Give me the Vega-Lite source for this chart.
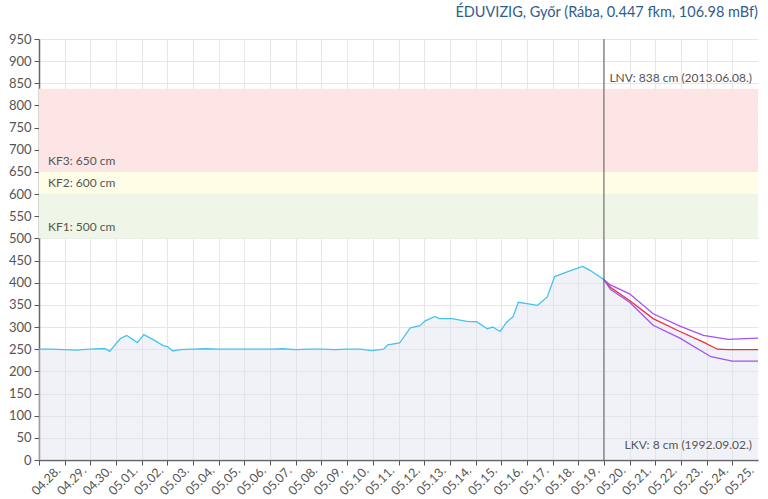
{
  "$schema": "https://vega.github.io/schema/vega-lite/v6.json",
  "width": 719,
  "height": 421,
  "autosize": {"type": "none"},
  "padding": {"left": 39, "top": 39, "right": 10, "bottom": 39},
  "background": "white",
  "title": {
    "text": "ÉDUVIZIG, Győr (Rába, 0.447 fkm, 106.98 mBf)",
    "anchor": "end",
    "frame": "group",
    "font": "Lato",
    "fontSize": 14.5,
    "fontWeight": "normal",
    "color": "#2f5d8e",
    "offset": 13
  },
  "config": {
    "font": "Lato",
    "view": {"stroke": null},
    "axis": {
      "gridColor": "#e6e6e6",
      "gridWidth": 1,
      "domainColor": "#666666",
      "tickColor": "#555555",
      "labelColor": "#555555",
      "labelFont": "Lato",
      "labelFontSize": 13,
      "title": null
    }
  },
  "datasets": {
    "bands": [
      {"lo": 500, "hi": 600, "fill": "#eff6e8"},
      {"lo": 600, "hi": 650, "fill": "#fefde6"},
      {"lo": 650, "hi": 838, "fill": "#fde5e5"}
    ],
    "series": [
      {"t": "2024-04-28T00:00", "v": 250, "s": "obs"},
      {"t": "2024-04-28T10:00", "v": 250, "s": "obs"},
      {"t": "2024-04-29T00:00", "v": 249, "s": "obs"},
      {"t": "2024-04-29T10:00", "v": 248, "s": "obs"},
      {"t": "2024-04-30T00:00", "v": 250, "s": "obs"},
      {"t": "2024-04-30T09:00", "v": 251, "s": "obs"},
      {"t": "2024-04-30T14:00", "v": 251, "s": "obs"},
      {"t": "2024-04-30T18:00", "v": 245, "s": "obs"},
      {"t": "2024-05-01T04:00", "v": 274, "s": "obs"},
      {"t": "2024-05-01T10:00", "v": 281, "s": "obs"},
      {"t": "2024-05-01T20:00", "v": 265, "s": "obs"},
      {"t": "2024-05-02T02:00", "v": 283, "s": "obs"},
      {"t": "2024-05-02T12:00", "v": 270, "s": "obs"},
      {"t": "2024-05-02T20:00", "v": 258, "s": "obs"},
      {"t": "2024-05-03T00:00", "v": 256, "s": "obs"},
      {"t": "2024-05-03T05:00", "v": 246, "s": "obs"},
      {"t": "2024-05-03T12:00", "v": 249, "s": "obs"},
      {"t": "2024-05-04T00:00", "v": 250, "s": "obs"},
      {"t": "2024-05-04T12:00", "v": 251, "s": "obs"},
      {"t": "2024-05-05T00:00", "v": 250, "s": "obs"},
      {"t": "2024-05-06T00:00", "v": 250, "s": "obs"},
      {"t": "2024-05-07T00:00", "v": 250, "s": "obs"},
      {"t": "2024-05-07T12:00", "v": 251, "s": "obs"},
      {"t": "2024-05-08T00:00", "v": 249, "s": "obs"},
      {"t": "2024-05-08T12:00", "v": 250, "s": "obs"},
      {"t": "2024-05-09T00:00", "v": 250, "s": "obs"},
      {"t": "2024-05-09T12:00", "v": 249, "s": "obs"},
      {"t": "2024-05-10T00:00", "v": 250, "s": "obs"},
      {"t": "2024-05-10T12:00", "v": 250, "s": "obs"},
      {"t": "2024-05-10T23:00", "v": 247, "s": "obs"},
      {"t": "2024-05-11T10:00", "v": 250, "s": "obs"},
      {"t": "2024-05-11T14:00", "v": 260, "s": "obs"},
      {"t": "2024-05-12T01:00", "v": 264, "s": "obs"},
      {"t": "2024-05-12T11:00", "v": 298, "s": "obs"},
      {"t": "2024-05-12T20:00", "v": 303, "s": "obs"},
      {"t": "2024-05-13T01:00", "v": 314, "s": "obs"},
      {"t": "2024-05-13T10:00", "v": 324, "s": "obs"},
      {"t": "2024-05-13T14:00", "v": 319, "s": "obs"},
      {"t": "2024-05-14T02:00", "v": 319, "s": "obs"},
      {"t": "2024-05-14T16:00", "v": 313, "s": "obs"},
      {"t": "2024-05-15T01:00", "v": 312, "s": "obs"},
      {"t": "2024-05-15T11:00", "v": 296, "s": "obs"},
      {"t": "2024-05-15T16:00", "v": 300, "s": "obs"},
      {"t": "2024-05-15T23:00", "v": 290, "s": "obs"},
      {"t": "2024-05-16T05:00", "v": 311, "s": "obs"},
      {"t": "2024-05-16T11:00", "v": 323, "s": "obs"},
      {"t": "2024-05-16T16:00", "v": 356, "s": "obs"},
      {"t": "2024-05-17T00:00", "v": 353, "s": "obs"},
      {"t": "2024-05-17T10:00", "v": 349, "s": "obs"},
      {"t": "2024-05-17T19:00", "v": 368, "s": "obs"},
      {"t": "2024-05-18T02:00", "v": 414, "s": "obs"},
      {"t": "2024-05-18T13:00", "v": 424, "s": "obs"},
      {"t": "2024-05-19T02:00", "v": 435, "s": "obs"},
      {"t": "2024-05-19T04:00", "v": 437, "s": "obs"},
      {"t": "2024-05-19T11:00", "v": 428, "s": "obs"},
      {"t": "2024-05-20T00:00", "v": 407, "s": "obs"},
      {"t": "2024-05-20T00:00", "v": 407, "s": "mid"},
      {"t": "2024-05-20T06:00", "v": 390, "s": "mid"},
      {"t": "2024-05-21T00:00", "v": 360, "s": "mid"},
      {"t": "2024-05-21T22:00", "v": 319, "s": "mid"},
      {"t": "2024-05-22T23:00", "v": 290, "s": "mid"},
      {"t": "2024-05-23T21:00", "v": 266, "s": "mid"},
      {"t": "2024-05-24T10:00", "v": 250, "s": "mid"},
      {"t": "2024-05-24T20:00", "v": 249, "s": "mid"},
      {"t": "2024-05-26T00:00", "v": 249, "s": "mid"},
      {"t": "2024-05-20T00:00", "v": 407, "s": "hi"},
      {"t": "2024-05-20T06:00", "v": 395, "s": "hi"},
      {"t": "2024-05-21T00:00", "v": 375, "s": "hi"},
      {"t": "2024-05-21T22:00", "v": 330, "s": "hi"},
      {"t": "2024-05-22T23:00", "v": 302, "s": "hi"},
      {"t": "2024-05-23T21:00", "v": 281, "s": "hi"},
      {"t": "2024-05-24T20:00", "v": 272, "s": "hi"},
      {"t": "2024-05-26T00:00", "v": 275, "s": "hi"},
      {"t": "2024-05-20T00:00", "v": 407, "s": "lo"},
      {"t": "2024-05-20T06:00", "v": 385, "s": "lo"},
      {"t": "2024-05-21T00:00", "v": 356, "s": "lo"},
      {"t": "2024-05-21T22:00", "v": 304, "s": "lo"},
      {"t": "2024-05-22T23:00", "v": 275, "s": "lo"},
      {"t": "2024-05-24T04:00", "v": 233, "s": "lo"},
      {"t": "2024-05-25T00:00", "v": 223, "s": "lo"},
      {"t": "2024-05-26T00:00", "v": 223, "s": "lo"}
    ]
  },
  "layer": [
    {
      "data": {"name": "bands"},
      "mark": {"type": "rect"},
      "encoding": {
        "y": {"field": "lo", "type": "quantitative", "scale": {"domain": [0, 950], "nice": false},
          "axis": {"values": [0,50,100,150,200,250,300,350,400,450,500,550,600,650,700,750,800,850,900,950], "tickCount": 40, "tickSize": 5, "labelPadding": 3, "domainWidth": 1.5}},
        "y2": {"field": "hi"},
        "color": {"field": "fill", "type": "nominal", "scale": null}
      }
    },
    {
      "data": {"name": "series"},
      "transform": [{"filter": "datum.s === 'obs' || (datum.s === 'mid' && datum.v < 407)"}],
      "mark": {"type": "area", "color": "#dfe3ee", "fillOpacity": 0.45},
      "encoding": {
        "x": {"field": "t", "type": "temporal",
          "scale": {"domain": [{"year": 2024, "month": 4, "date": 28}, {"year": 2024, "month": 5, "date": 26}], "nice": false},
          "axis": {"values": [
            {"year": 2024, "month": 4, "date": 28}, {"year": 2024, "month": 4, "date": 29}, {"year": 2024, "month": 4, "date": 30},
            {"year": 2024, "month": 5, "date": 1}, {"year": 2024, "month": 5, "date": 2}, {"year": 2024, "month": 5, "date": 3},
            {"year": 2024, "month": 5, "date": 4}, {"year": 2024, "month": 5, "date": 5}, {"year": 2024, "month": 5, "date": 6},
            {"year": 2024, "month": 5, "date": 7}, {"year": 2024, "month": 5, "date": 8}, {"year": 2024, "month": 5, "date": 9},
            {"year": 2024, "month": 5, "date": 10}, {"year": 2024, "month": 5, "date": 11}, {"year": 2024, "month": 5, "date": 12},
            {"year": 2024, "month": 5, "date": 13}, {"year": 2024, "month": 5, "date": 14}, {"year": 2024, "month": 5, "date": 15},
            {"year": 2024, "month": 5, "date": 16}, {"year": 2024, "month": 5, "date": 17}, {"year": 2024, "month": 5, "date": 18},
            {"year": 2024, "month": 5, "date": 19}, {"year": 2024, "month": 5, "date": 20}, {"year": 2024, "month": 5, "date": 21},
            {"year": 2024, "month": 5, "date": 22}, {"year": 2024, "month": 5, "date": 23}, {"year": 2024, "month": 5, "date": 24},
            {"year": 2024, "month": 5, "date": 25}
          ],
          "tickCount": 60,
          "format": "%m.%d.", "labelAngle": -45, "labelAlign": "right", "labelBaseline": "middle", "labelOffset": 19, "labelPadding": 3, "labelFontSize": 12.5, "tickSize": 5, "domainWidth": 1.5, "labelOverlap": false, "labelBound": false, "labelFlush": false}},
        "y": {"field": "v", "type": "quantitative", "scale": {"domain": [0, 950], "nice": false},
          "axis": {"values": [0,50,100,150,200,250,300,350,400,450,500,550,600,650,700,750,800,850,900,950], "tickCount": 40, "tickSize": 5, "labelPadding": 3, "domainWidth": 1.5}}
      }
    },
    {
      "data": {"name": "series"},
      "mark": {"type": "line", "strokeWidth": 1.3},
      "encoding": {
        "x": {"field": "t", "type": "temporal"},
        "y": {"field": "v", "type": "quantitative"},
        "color": {"field": "s", "type": "nominal", "legend": null,
          "scale": {"domain": ["hi", "lo", "obs", "mid"], "range": ["#a64ff5", "#a64ff5", "#45c3f0", "#e8323c"]}},
        "order": {"field": "s"}
      }
    },
    {
      "mark": {"type": "rule", "color": "#555555", "strokeWidth": 1.3},
      "encoding": {"y": {"datum": 838, "type": "quantitative"}}
    },
    {
      "mark": {"type": "rule", "color": "#555555", "strokeWidth": 1},
      "encoding": {"y": {"datum": 8, "type": "quantitative"}}
    },
    {
      "data": {"values": [{"now": "2024-05-20T00:00"}]},
      "mark": {"type": "rule", "color": "#555555", "strokeWidth": 1},
      "encoding": {"x": {"field": "now", "type": "temporal"}}
    },
    {
      "data": {"values": [
        {"label": "KF3: 650 cm", "y": 650},
        {"label": "KF2: 600 cm", "y": 600},
        {"label": "KF1: 500 cm", "y": 500}
      ]},
      "mark": {"type": "text", "align": "left", "baseline": "bottom", "dx": 9, "dy": -4, "fontSize": 12, "color": "#555555", "font": "Lato"},
      "encoding": {
        "x": {"datum": {"year": 2024, "month": 4, "date": 28}, "type": "temporal"},
        "y": {"field": "y", "type": "quantitative"},
        "text": {"field": "label"}
      }
    },
    {
      "data": {"values": [
        {"label": "LNV: 838 cm (2013.06.08.)", "y": 838},
        {"label": "LKV: 8 cm (1992.09.02.)", "y": 8}
      ]},
      "mark": {"type": "text", "align": "right", "baseline": "bottom", "dx": -6, "dy": -4, "fontSize": 12, "color": "#555555", "font": "Lato"},
      "encoding": {
        "x": {"datum": {"year": 2024, "month": 5, "date": 26}, "type": "temporal"},
        "y": {"field": "y", "type": "quantitative"},
        "text": {"field": "label"}
      }
    }
  ]
}
